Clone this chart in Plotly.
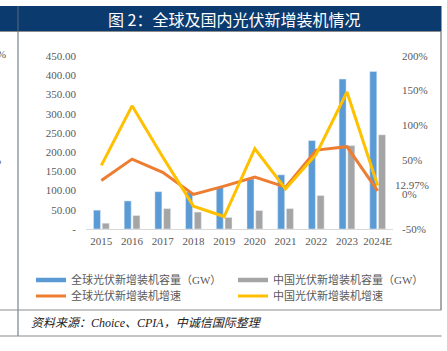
import plotly.graph_objects as go

years = ["2015", "2016", "2017", "2018", "2019", "2020", "2021", "2022", "2023", "2024E"]
global_cap = [49, 73, 97, 96, 109, 130, 141, 230, 390, 410]
china_cap = [15, 35, 53, 44, 30, 48, 53, 87, 217, 245]
global_growth = [20, 51, 32, 0, 12, 25, 10.5, 64, 69, 5]
china_growth = [42, 128, 54, -17, -32, 66, 8, 58, 148, 12.97]

left_ticks = [0, 50, 100, 150, 200, 250, 300, 350, 400, 450]
left_text = ["-"] + [f"{v:.2f}" for v in left_ticks[1:]]
right_ticks = [-50, 0, 50, 100, 150, 200]
right_text = [f"{v}%" for v in right_ticks]

names = ["全球光伏新增装机容量（GW）", "中国光伏新增装机容量（GW）", "全球光伏新增装机增速", "中国光伏新增装机增速"]
colors = ["#5b9bd5", "#a5a5a5", "#ed7d31", "#ffc000"]

W, H = 447, 351
L, R, T, B = 86, 54, 56, 122
pw, ph = W - L - R, H - T - B


def px(x):
    return (x - L) / pw


def py(y):
    return (H - B - y) / ph


fig = go.Figure()
fig.add_trace(go.Bar(x=years, y=global_cap, marker_color=colors[0], name=names[0], showlegend=False))
fig.add_trace(go.Bar(x=years, y=china_cap, marker_color=colors[1], name=names[1], showlegend=False))
fig.add_trace(go.Scatter(x=years, y=global_growth, yaxis="y2", mode="lines",
                         line=dict(color=colors[2], width=3), name=names[2], showlegend=False))
fig.add_trace(go.Scatter(x=years, y=china_growth, yaxis="y2", mode="lines",
                         line=dict(color=colors[3], width=3), name=names[3], showlegend=False))

# legend entries, one small legend per entry so they sit exactly where the reference has them
legend_ids = ["legend", "legend2", "legend3", "legend4"]
legend_pos = [(31, 280), (233, 280), (31, 296), (233, 296)]
leg_font = dict(family="Liberation Serif, Noto Sans CJK SC", size=11, color="#595959")
for i, (n, c) in enumerate(zip(names, colors)):
    fig.add_trace(go.Scatter(x=[years[0]], y=[None], mode="lines", name=n, legend=legend_ids[i],
                             line=dict(color=c, width=4.5 if i < 2 else 3), showlegend=True))

tick_font = dict(family="Liberation Serif", size=11, color="#595959")
layout_legends = {}
for lid, (lx, ly) in zip(legend_ids, legend_pos):
    layout_legends[lid] = dict(x=px(lx), y=py(ly), xanchor="left", yanchor="middle",
                               font=leg_font, bgcolor="rgba(0,0,0,0)", itemwidth=30)

fig.update_layout(
    width=W, height=H, margin=dict(l=L, r=R, t=T, b=B, autoexpand=False),
    paper_bgcolor="white", plot_bgcolor="white",
    barmode="group", bargap=0.43, bargroupgap=0.2,
    xaxis=dict(type="category", categoryorder="array", categoryarray=years, range=[-0.5, 9.5],
               showline=True, linecolor="#d9d9d9", linewidth=1,
               showgrid=False, ticks="", tickfont=tick_font, ticklabelstandoff=2),
    yaxis=dict(range=[0, 450], tickvals=left_ticks, ticktext=left_text, showgrid=False,
               zeroline=False, showline=False, ticks="", tickfont=tick_font, ticklabelstandoff=9),
    yaxis2=dict(range=[-50, 200], tickvals=right_ticks, ticktext=right_text, overlaying="y",
                side="right", showgrid=False, zeroline=False, showline=False, ticks="",
                tickfont=tick_font, ticklabelstandoff=8),
    showlegend=True,
    **layout_legends,
)

shapes = [
    dict(type="rect", xref="paper", yref="paper", x0=px(0), x1=px(441.5), y0=py(31), y1=py(6),
         fillcolor="#0b3a6e", line=dict(width=0), layer="below"),
    dict(type="line", xref="paper", yref="paper", x0=px(0), x1=px(441.5), y0=py(31.5), y1=py(31.5),
         line=dict(color="#8c8c8c", width=1.2)),
    dict(type="line", xref="paper", yref="paper", x0=px(18), x1=px(18), y0=py(6), y1=py(336),
         line=dict(color="#5a6a7a", width=1)),
    dict(type="line", xref="paper", yref="paper", x0=px(441), x1=px(441), y0=py(31.5), y1=py(310),
         line=dict(color="#555555", width=1)),
    dict(type="line", xref="paper", yref="paper", x0=px(0), x1=px(441.5), y0=py(310), y1=py(310),
         line=dict(color="#8c8c8c", width=1.2)),
    dict(type="line", xref="paper", yref="paper", x0=px(0), x1=px(441.5), y0=py(336), y1=py(336),
         line=dict(color="#8c8c8c", width=1.2)),
]
fig.update_layout(shapes=shapes)

annotations = [
    dict(text="图 2：全球及国内光伏新增装机情况", xref="paper", yref="paper", x=px(234), y=py(19),
         showarrow=False, xanchor="center", yanchor="middle",
         font=dict(family="Noto Sans CJK SC", size=16, color="white")),
    dict(text="<i>资料来源：Choice、CPIA，中诚信国际整理</i>", xref="paper", yref="paper",
         x=px(29), y=py(323), showarrow=False, xanchor="left", yanchor="middle",
         font=dict(family="Liberation Serif, Noto Sans CJK SC", size=12, color="#222222")),
    dict(text=f"{china_growth[8]:.0f}%", x=years[8], y=china_growth[8], xref="x", yref="y2",
         showarrow=True, arrowhead=0, arrowwidth=0.8, arrowcolor="#a6a6a6", ax=-7, ay=-25,
         standoff=5, font=tick_font),
    dict(text=f"{china_growth[9]:.2f}%", x=years[9], y=china_growth[9], xref="x", yref="y2",
         showarrow=False, xanchor="left", yanchor="middle", xshift=15, yshift=0, font=tick_font),
    dict(text="%", xref="paper", yref="paper", x=px(8), y=py(54), showarrow=False,
         xanchor="right", yanchor="middle", font=tick_font),
    dict(text="%", xref="paper", yref="paper", x=px(3), y=py(160), showarrow=False,
         xanchor="right", yanchor="middle", font=tick_font),
]
fig.update_layout(annotations=annotations)

fig.write_html("out.html")
